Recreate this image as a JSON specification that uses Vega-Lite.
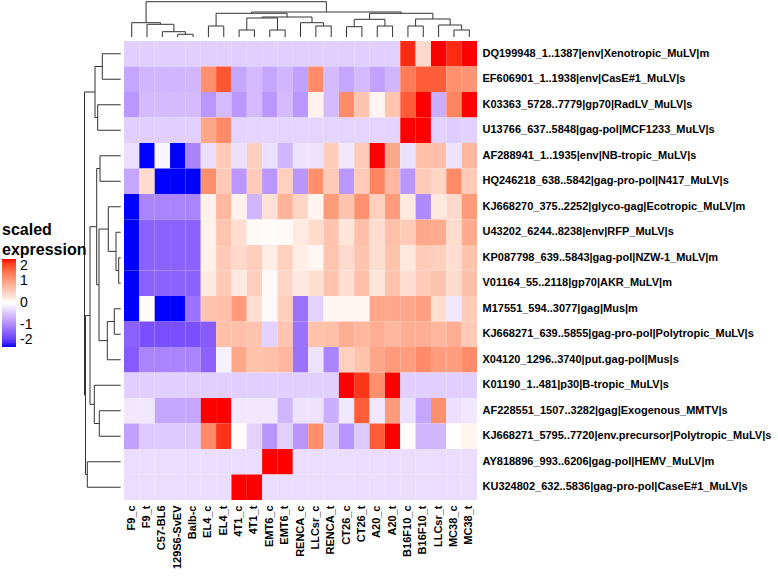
{
  "$schema": "https://vega.github.io/schema/vega-lite/v6.json",
  "padding": 0,
  "background": "white",
  "spacing": 0,
  "config": {"view": {"stroke": null}, "font": "Liberation Sans", "concat": {"spacing": 0}},
  "vconcat": [
    {
      "spacing": 0,
      "hconcat": [
        {"width": 124, "height": 41, "data": {"values": []}, "mark": "point"},
        {
          "width": 353, "height": 41,
          "data": {"name": "colTree"},
          "layer": [
            {"mark": {"type": "rule", "color": "#333333", "strokeWidth": 1},
             "encoding": {
               "x": {"field": "lx", "type": "quantitative", "scale": {"domain": [0, 23], "nice": false, "zero": false}, "axis": null},
               "x2": {"field": "rx"},
               "y": {"field": "h", "type": "quantitative", "scale": {"domain": [-4, 37], "nice": false, "zero": false}, "axis": null}}},
            {"mark": {"type": "rule", "color": "#333333", "strokeWidth": 1},
             "encoding": {
               "x": {"field": "lx", "type": "quantitative", "axis": null},
               "y": {"field": "lh", "type": "quantitative", "axis": null},
               "y2": {"field": "h"}}},
            {"mark": {"type": "rule", "color": "#333333", "strokeWidth": 1},
             "encoding": {
               "x": {"field": "rx", "type": "quantitative", "axis": null},
               "y": {"field": "rh", "type": "quantitative", "axis": null},
               "y2": {"field": "h"}}}
          ]
        }
      ]
    },
    {
      "spacing": 0,
      "hconcat": [
        {
          "width": 124, "height": 459,
          "data": {"name": "rowTree"},
          "layer": [
            {"mark": {"type": "rule", "color": "#333333", "strokeWidth": 1},
             "encoding": {
               "x": {"field": "h", "type": "quantitative", "scale": {"domain": [-3.3, 120.7], "reverse": true, "nice": false, "zero": false}, "axis": null},
               "y": {"field": "l", "type": "quantitative", "scale": {"domain": [0, 18], "reverse": true, "nice": false, "zero": false}, "axis": null},
               "y2": {"field": "r"}}},
            {"mark": {"type": "rule", "color": "#333333", "strokeWidth": 1},
             "encoding": {
               "x": {"field": "lh", "type": "quantitative", "axis": null},
               "x2": {"field": "h"},
               "y": {"field": "l", "type": "quantitative", "axis": null}}},
            {"mark": {"type": "rule", "color": "#333333", "strokeWidth": 1},
             "encoding": {
               "x": {"field": "rh", "type": "quantitative", "axis": null},
               "x2": {"field": "h"},
               "y": {"field": "r", "type": "quantitative", "axis": null}}}
          ]
        },
        {
          "width": 353, "height": 459,
          "data": {"name": "heat"},
          "transform": [
            {"fold": ["F9_c","F9_t","C57-BL6","129S6-SvEV","Balb-c","EL4_c","EL4_t","4T1_c","4T1_t","EMT6_c","EMT6_t","RENCA_c","LLCsr_c","RENCA_t","CT26_c","CT26_t","A20_c","A20_t","B16F10_c","B16F10_t","LLCsr_t","MC38_c","MC38_t"], "as": ["sample", "value"]}
          ],
          "mark": {"type": "rect"},
          "encoding": {
            "x": {"field": "sample", "type": "nominal",
              "sort": ["F9_c","F9_t","C57-BL6","129S6-SvEV","Balb-c","EL4_c","EL4_t","4T1_c","4T1_t","EMT6_c","EMT6_t","RENCA_c","LLCsr_c","RENCA_t","CT26_c","CT26_t","A20_c","A20_t","B16F10_c","B16F10_t","LLCsr_t","MC38_c","MC38_t"],
              "scale": {"paddingInner": 0, "paddingOuter": 0},
              "axis": {"orient": "bottom", "title": null, "labelAngle": -90, "labelFontSize": 11, "labelFontWeight": "bold", "labelColor": "black", "ticks": false, "domain": false, "labelPadding": 5}},
            "y": {"field": "gene", "type": "nominal",
              "sort": ["DQ199948_1..1387|env|Xenotropic_MuLV|m","EF606901_1..1938|env|CasE#1_MuLV|s","K03363_5728..7779|gp70|RadLV_MuLV|s","U13766_637..5848|gag-pol|MCF1233_MuLV|s","AF288941_1..1935|env|NB-tropic_MuLV|s","HQ246218_638..5842|gag-pro-pol|N417_MuLV|s","KJ668270_375..2252|glyco-gag|Ecotropic_MuLV|m","U43202_6244..8238|env|RFP_MuLV|s","KP087798_639..5843|gag-pol|NZW-1_MuLV|m","V01164_55..2118|gp70|AKR_MuLV|m","M17551_594..3077|gag|Mus|m","KJ668271_639..5855|gag-pro-pol|Polytropic_MuLV|s","X04120_1296..3740|put.gag-pol|Mus|s","K01190_1..481|p30|B-tropic_MuLV|s","AF228551_1507..3282|gag|Exogenous_MMTV|s","KJ668271_5795..7720|env.precursor|Polytropic_MuLV|s","AY818896_993..6206|gag-pol|HEMV_MuLV|m","KU324802_632..5836|gag-pro-pol|CaseE#1_MuLV|s"],
              "scale": {"paddingInner": 0, "paddingOuter": 0},
              "axis": {"orient": "right", "title": null, "labelFontSize": 11, "labelFontWeight": "bold", "labelColor": "black", "ticks": false, "domain": false, "labelPadding": 5, "labelLimit": 400}},
            "color": {"field": "value", "type": "quantitative",
              "scale": {"domain": [-2, 0, 2], "range": ["#0000FF", "#FFFFFF", "#FF0000"], "interpolate": "lab", "clamp": true},
              "legend": {"title": ["scaled", "expression"], "orient": "none", "legendX": 2, "legendY": 222, "direction": "vertical", "gradientLength": 88, "gradientThickness": 14, "titleFontSize": 16, "titleFontWeight": "bold", "titleColor": "black", "titleLineHeight": 20, "titlePadding": 1, "labelFontSize": 14, "labelColor": "black", "labelOffset": 4, "values": [-2, -1, 0, 1, 2], "labelExpr": "'' + datum.value", "gradientStrokeWidth": 0}}
          }
        }
      ]
    }
  ],
  "datasets": {
    "colTree": [
      {"lx": 3.5, "lh": 0, "rx": 4.5, "rh": 0, "h": 2.7},
      {"lx": 2.5, "lh": 0, "rx": 4.0, "rh": 2.7, "h": 5.3},
      {"lx": 1.5, "lh": 0, "rx": 3.25, "rh": 5.3, "h": 12.7},
      {"lx": 0.5, "lh": 0, "rx": 2.375, "rh": 12.7, "h": 14.3},
      {"lx": 5.5, "lh": 0, "rx": 6.5, "rh": 0, "h": 11},
      {"lx": 7.5, "lh": 0, "rx": 8.5, "rh": 0, "h": 7},
      {"lx": 9.5, "lh": 0, "rx": 10.5, "rh": 0, "h": 7},
      {"lx": 8.0, "lh": 7, "rx": 10.0, "rh": 7, "h": 19},
      {"lx": 12.5, "lh": 0, "rx": 13.5, "rh": 0, "h": 11},
      {"lx": 11.5, "lh": 0, "rx": 13.0, "rh": 11, "h": 14.3},
      {"lx": 9.0, "lh": 19, "rx": 12.25, "rh": 14.3, "h": 20},
      {"lx": 14.5, "lh": 0, "rx": 15.5, "rh": 0, "h": 10.3},
      {"lx": 16.5, "lh": 0, "rx": 17.5, "rh": 0, "h": 11},
      {"lx": 15.0, "lh": 10.3, "rx": 17.0, "rh": 11, "h": 17.7},
      {"lx": 18.5, "lh": 0, "rx": 19.5, "rh": 0, "h": 11},
      {"lx": 21.5, "lh": 0, "rx": 22.5, "rh": 0, "h": 7},
      {"lx": 20.5, "lh": 0, "rx": 22.0, "rh": 7, "h": 12},
      {"lx": 19.0, "lh": 11, "rx": 21.25, "rh": 12, "h": 18},
      {"lx": 6.0, "lh": 11, "rx": 10.625, "rh": 20, "h": 23.7},
      {"lx": 16.0, "lh": 17.7, "rx": 20.125, "rh": 18, "h": 23.7},
      {"lx": 8.3125, "lh": 23.7, "rx": 18.0625, "rh": 23.7, "h": 25},
      {"lx": 1.4375, "lh": 14.3, "rx": 13.1875, "rh": 25, "h": 35.3}
    ],
    "rowTree": [
      {"l": 0.5, "lh": 0, "r": 1.5, "rh": 0, "h": 18.4},
      {"l": 2.5, "lh": 0, "r": 3.5, "rh": 0, "h": 23},
      {"l": 1.0, "lh": 18.4, "r": 3.0, "rh": 23, "h": 25.7},
      {"l": 4.5, "lh": 0, "r": 5.5, "rh": 0, "h": 20.7},
      {"l": 8.5, "lh": 0, "r": 9.5, "rh": 0, "h": 2},
      {"l": 7.5, "lh": 0, "r": 9.0, "rh": 2, "h": 4.7},
      {"l": 6.5, "lh": 0, "r": 8.25, "rh": 4.7, "h": 12.4},
      {"l": 10.5, "lh": 0, "r": 11.5, "rh": 0, "h": 6.4},
      {"l": 11.0, "lh": 6.4, "r": 12.5, "rh": 0, "h": 13.4},
      {"l": 7.375, "lh": 12.4, "r": 11.75, "rh": 13.4, "h": 21.7},
      {"l": 5.0, "lh": 20.7, "r": 9.5625, "rh": 21.7, "h": 24},
      {"l": 14.5, "lh": 0, "r": 15.5, "rh": 0, "h": 21.4},
      {"l": 13.5, "lh": 0, "r": 15.0, "rh": 21.4, "h": 26.4},
      {"l": 7.28125, "lh": 24, "r": 14.25, "rh": 26.4, "h": 30.7},
      {"l": 16.5, "lh": 0, "r": 17.5, "rh": 0, "h": 33.4},
      {"l": 10.765625, "lh": 30.7, "r": 17.0, "rh": 33.4, "h": 35.2},
      {"l": 2.0, "lh": 25.7, "r": 13.8828125, "rh": 35.2, "h": 36.2}
    ],
    "heat": [
      {"gene": "DQ199948_1..1387|env|Xenotropic_MuLV|m", "F9_c": -0.4, "F9_t": -0.4, "C57-BL6": -0.4, "129S6-SvEV": -0.4, "Balb-c": -0.4, "EL4_c": -0.4, "EL4_t": -0.4, "4T1_c": -0.4, "4T1_t": -0.4, "EMT6_c": -0.4, "EMT6_t": -0.4, "RENCA_c": -0.4, "LLCsr_c": -0.4, "RENCA_t": -0.4, "CT26_c": -0.4, "CT26_t": -0.4, "A20_c": -0.4, "A20_t": -0.4, "B16F10_c": 1.9, "B16F10_t": 0.4, "LLCsr_t": 2.2, "MC38_c": 1.9, "MC38_t": 2.2},
      {"gene": "EF606901_1..1938|env|CasE#1_MuLV|s", "F9_c": -0.75, "F9_t": -0.62, "C57-BL6": -0.62, "129S6-SvEV": -0.62, "Balb-c": -0.62, "EL4_c": 1.15, "EL4_t": 1.65, "4T1_c": -0.75, "4T1_t": -0.57, "EMT6_c": -0.75, "EMT6_t": -0.62, "RENCA_c": -0.8, "LLCsr_c": 1.2, "RENCA_t": -0.57, "CT26_c": -0.75, "CT26_t": -0.57, "A20_c": -0.8, "A20_t": -0.62, "B16F10_c": 1.35, "B16F10_t": 1.6, "LLCsr_t": 1.6, "MC38_c": 1.15, "MC38_t": 1.1},
      {"gene": "K03363_5728..7779|gp70|RadLV_MuLV|s", "F9_c": -0.88, "F9_t": -0.57, "C57-BL6": -0.57, "129S6-SvEV": -0.57, "Balb-c": -0.57, "EL4_c": -0.88, "EL4_t": -0.57, "4T1_c": -0.88, "4T1_t": -0.57, "EMT6_c": -0.88, "EMT6_t": -0.57, "RENCA_c": -0.88, "LLCsr_c": 0.15, "RENCA_t": -0.57, "CT26_c": 1.2, "CT26_t": 0.62, "A20_c": 0.12, "A20_t": 0.62, "B16F10_c": 1.6, "B16F10_t": 2.2, "LLCsr_t": -0.68, "MC38_c": 1.25, "MC38_t": 2.2},
      {"gene": "U13766_637..5848|gag-pol|MCF1233_MuLV|s", "F9_c": -0.4, "F9_t": -0.4, "C57-BL6": -0.4, "129S6-SvEV": -0.4, "Balb-c": -0.4, "EL4_c": 0.92, "EL4_t": 1.2, "4T1_c": -0.36, "4T1_t": -0.36, "EMT6_c": -0.36, "EMT6_t": -0.36, "RENCA_c": -0.36, "LLCsr_c": -0.36, "RENCA_t": -0.36, "CT26_c": -0.36, "CT26_t": -0.36, "A20_c": -0.36, "A20_t": -0.36, "B16F10_c": 2.3, "B16F10_t": 2.3, "LLCsr_t": -0.38, "MC38_c": -0.42, "MC38_t": -0.38},
      {"gene": "AF288941_1..1935|env|NB-tropic_MuLV|s", "F9_c": -0.26, "F9_t": -2.05, "C57-BL6": -0.09, "129S6-SvEV": -2.05, "Balb-c": -1.05, "EL4_c": -0.28, "EL4_t": 0.56, "4T1_c": -0.26, "4T1_t": 0.5, "EMT6_c": -0.26, "EMT6_t": -0.62, "RENCA_c": -0.23, "LLCsr_c": -0.23, "RENCA_t": 0.53, "CT26_c": -0.19, "CT26_t": 0.56, "A20_c": 2.3, "A20_t": 0.92, "B16F10_c": -0.26, "B16F10_t": 0.68, "LLCsr_t": 0.68, "MC38_c": -0.23, "MC38_t": 0.75},
      {"gene": "HQ246218_638..5842|gag-pro-pol|N417_MuLV|s", "F9_c": -0.75, "F9_t": 0.38, "C57-BL6": -2.1, "129S6-SvEV": -2.1, "Balb-c": -2.1, "EL4_c": 1.15, "EL4_t": 0.56, "4T1_c": -0.88, "4T1_t": 0.56, "EMT6_c": -0.88, "EMT6_t": 0.5, "RENCA_c": -0.88, "LLCsr_c": 1.15, "RENCA_t": 0.56, "CT26_c": -0.88, "CT26_t": 0.56, "A20_c": 1.25, "A20_t": 0.75, "B16F10_c": -0.88, "B16F10_t": 0.56, "LLCsr_t": 0.44, "MC38_c": 1.2, "MC38_t": 0.56},
      {"gene": "KJ668270_375..2252|glyco-gag|Ecotropic_MuLV|m", "F9_c": -2.4, "F9_t": -1.05, "C57-BL6": -1.05, "129S6-SvEV": -1.05, "Balb-c": -1.05, "EL4_c": 0.15, "EL4_t": 0.75, "4T1_c": 0.15, "4T1_t": -0.62, "EMT6_c": 0.31, "EMT6_t": 0.8, "RENCA_c": 0.44, "LLCsr_c": 0.12, "RENCA_t": 1.05, "CT26_c": 0.62, "CT26_t": 1.15, "A20_c": 0.5, "A20_t": 1.05, "B16F10_c": 0.25, "B16F10_t": -1.0, "LLCsr_t": 0.25, "MC38_c": 0.4, "MC38_t": 1.05},
      {"gene": "U43202_6244..8238|env|RFP_MuLV|s", "F9_c": -2.4, "F9_t": -1.35, "C57-BL6": -1.35, "129S6-SvEV": -1.35, "Balb-c": -1.35, "EL4_c": 0.15, "EL4_t": 0.62, "4T1_c": 0.35, "4T1_t": 0.06, "EMT6_c": 0.04, "EMT6_t": 0.06, "RENCA_c": 0.22, "LLCsr_c": 0.38, "RENCA_t": 0.62, "CT26_c": 0.28, "CT26_t": 0.68, "A20_c": 0.35, "A20_t": 0.68, "B16F10_c": 0.56, "B16F10_t": 0.92, "LLCsr_t": 0.88, "MC38_c": 0.38, "MC38_t": 0.88},
      {"gene": "KP087798_639..5843|gag-pol|NZW-1_MuLV|m", "F9_c": -2.4, "F9_t": -1.35, "C57-BL6": -1.35, "129S6-SvEV": -1.35, "Balb-c": -1.35, "EL4_c": 0.15, "EL4_t": 0.56, "4T1_c": 0.4, "4T1_t": 0.52, "EMT6_c": 0.19, "EMT6_t": 0.5, "RENCA_c": 0.19, "LLCsr_c": 0.1, "RENCA_t": 0.62, "CT26_c": 0.4, "CT26_t": 0.62, "A20_c": 0.35, "A20_t": 0.65, "B16F10_c": 0.25, "B16F10_t": 0.56, "LLCsr_t": 0.5, "MC38_c": 0.35, "MC38_t": 0.65},
      {"gene": "V01164_55..2118|gp70|AKR_MuLV|m", "F9_c": -2.4, "F9_t": -1.35, "C57-BL6": -1.35, "129S6-SvEV": -1.35, "Balb-c": -1.35, "EL4_c": 0.22, "EL4_t": 0.56, "4T1_c": 0.25, "4T1_t": 0.52, "EMT6_c": 0.06, "EMT6_t": 0.44, "RENCA_c": 0.22, "LLCsr_c": 0.35, "RENCA_t": 0.62, "CT26_c": 0.35, "CT26_t": 0.68, "A20_c": 0.28, "A20_t": 0.65, "B16F10_c": 0.35, "B16F10_t": 0.56, "LLCsr_t": 0.62, "MC38_c": 0.38, "MC38_t": 0.68},
      {"gene": "M17551_594..3077|gag|Mus|m", "F9_c": -2.0, "F9_t": 0.02, "C57-BL6": -2.1, "129S6-SvEV": -2.1, "Balb-c": -1.2, "EL4_c": 0.62, "EL4_t": 0.68, "4T1_c": 1.05, "4T1_t": 0.35, "EMT6_c": 0.06, "EMT6_t": 0.52, "RENCA_c": -1.2, "LLCsr_c": -0.38, "RENCA_t": 0.1, "CT26_c": 0.1, "CT26_t": 0.1, "A20_c": 0.92, "A20_t": 0.92, "B16F10_c": 0.92, "B16F10_t": 1.0, "LLCsr_t": 0.35, "MC38_c": -0.19, "MC38_t": 0.56},
      {"gene": "KJ668271_639..5855|gag-pro-pol|Polytropic_MuLV|s", "F9_c": -1.35, "F9_t": -1.5, "C57-BL6": -1.5, "129S6-SvEV": -1.5, "Balb-c": -1.5, "EL4_c": -1.4, "EL4_t": 0.68, "4T1_c": 0.68, "4T1_t": 0.62, "EMT6_c": -0.38, "EMT6_t": 0.62, "RENCA_c": -1.2, "LLCsr_c": 0.65, "RENCA_t": 0.68, "CT26_c": 0.85, "CT26_t": 0.75, "A20_c": 0.85, "A20_t": 0.75, "B16F10_c": 0.85, "B16F10_t": 0.85, "LLCsr_t": 0.75, "MC38_c": 0.85, "MC38_t": 0.56},
      {"gene": "X04120_1296..3740|put.gag-pol|Mus|s", "F9_c": -1.4, "F9_t": -1.05, "C57-BL6": -1.05, "129S6-SvEV": -1.05, "Balb-c": -1.05, "EL4_c": -1.35, "EL4_t": -0.12, "4T1_c": 0.92, "4T1_t": 0.65, "EMT6_c": 0.68, "EMT6_t": 0.75, "RENCA_c": -1.2, "LLCsr_c": -0.23, "RENCA_t": -1.05, "CT26_c": 0.5, "CT26_t": 0.65, "A20_c": 0.92, "A20_t": 1.05, "B16F10_c": 1.02, "B16F10_t": 1.2, "LLCsr_t": 1.02, "MC38_c": 1.02, "MC38_t": 1.2},
      {"gene": "K01190_1..481|p30|B-tropic_MuLV|s", "F9_c": -0.4, "F9_t": -0.4, "C57-BL6": -0.4, "129S6-SvEV": -0.4, "Balb-c": -0.4, "EL4_c": -0.4, "EL4_t": -0.4, "4T1_c": -0.4, "4T1_t": -0.4, "EMT6_c": -0.4, "EMT6_t": -0.4, "RENCA_c": -0.4, "LLCsr_c": -0.4, "RENCA_t": -0.4, "CT26_c": 2.3, "CT26_t": 1.85, "A20_c": 1.15, "A20_t": 2.3, "B16F10_c": -0.4, "B16F10_t": -0.4, "LLCsr_t": -0.4, "MC38_c": -0.4, "MC38_t": -0.4},
      {"gene": "AF228551_1507..3282|gag|Exogenous_MMTV|s", "F9_c": -0.19, "F9_t": -0.19, "C57-BL6": -0.75, "129S6-SvEV": -0.75, "Balb-c": -0.75, "EL4_c": 2.3, "EL4_t": 2.0, "4T1_c": -0.19, "4T1_t": -0.19, "EMT6_c": -0.19, "EMT6_t": -0.62, "RENCA_c": -0.23, "LLCsr_c": -0.23, "RENCA_t": -0.68, "CT26_c": -0.19, "CT26_t": 1.6, "A20_c": -0.19, "A20_t": 1.05, "B16F10_c": -0.26, "B16F10_t": -0.75, "LLCsr_t": 1.15, "MC38_c": -0.26, "MC38_t": -0.19},
      {"gene": "KJ668271_5795..7720|env.precursor|Polytropic_MuLV|s", "F9_c": -0.8, "F9_t": -0.44, "C57-BL6": -0.44, "129S6-SvEV": -0.44, "Balb-c": -0.44, "EL4_c": 1.2, "EL4_t": 1.85, "4T1_c": 0.03, "4T1_t": -0.38, "EMT6_c": -0.9, "EMT6_t": -0.4, "RENCA_c": -0.9, "LLCsr_c": 1.15, "RENCA_t": -0.44, "CT26_c": -0.9, "CT26_t": -0.44, "A20_c": 1.6, "A20_t": 2.2, "B16F10_c": 0.04, "B16F10_t": -0.62, "LLCsr_t": -0.62, "MC38_c": 0.0, "MC38_t": 0.1},
      {"gene": "AY818896_993..6206|gag-pol|HEMV_MuLV|m", "F9_c": -0.28, "F9_t": -0.28, "C57-BL6": -0.28, "129S6-SvEV": -0.28, "Balb-c": -0.28, "EL4_c": -0.28, "EL4_t": -0.28, "4T1_c": -0.28, "4T1_t": -0.28, "EMT6_c": 2.3, "EMT6_t": 2.3, "RENCA_c": -0.28, "LLCsr_c": -0.28, "RENCA_t": -0.28, "CT26_c": -0.28, "CT26_t": -0.28, "A20_c": -0.28, "A20_t": -0.28, "B16F10_c": -0.28, "B16F10_t": -0.28, "LLCsr_t": -0.28, "MC38_c": -0.28, "MC38_t": -0.28},
      {"gene": "KU324802_632..5836|gag-pro-pol|CaseE#1_MuLV|s", "F9_c": -0.28, "F9_t": -0.28, "C57-BL6": -0.28, "129S6-SvEV": -0.28, "Balb-c": -0.28, "EL4_c": -0.28, "EL4_t": -0.28, "4T1_c": 2.3, "4T1_t": 2.3, "EMT6_c": -0.28, "EMT6_t": -0.28, "RENCA_c": -0.28, "LLCsr_c": -0.28, "RENCA_t": -0.28, "CT26_c": -0.28, "CT26_t": -0.28, "A20_c": -0.28, "A20_t": -0.28, "B16F10_c": -0.28, "B16F10_t": -0.28, "LLCsr_t": -0.28, "MC38_c": -0.28, "MC38_t": -0.28}
    ]
  }
}
